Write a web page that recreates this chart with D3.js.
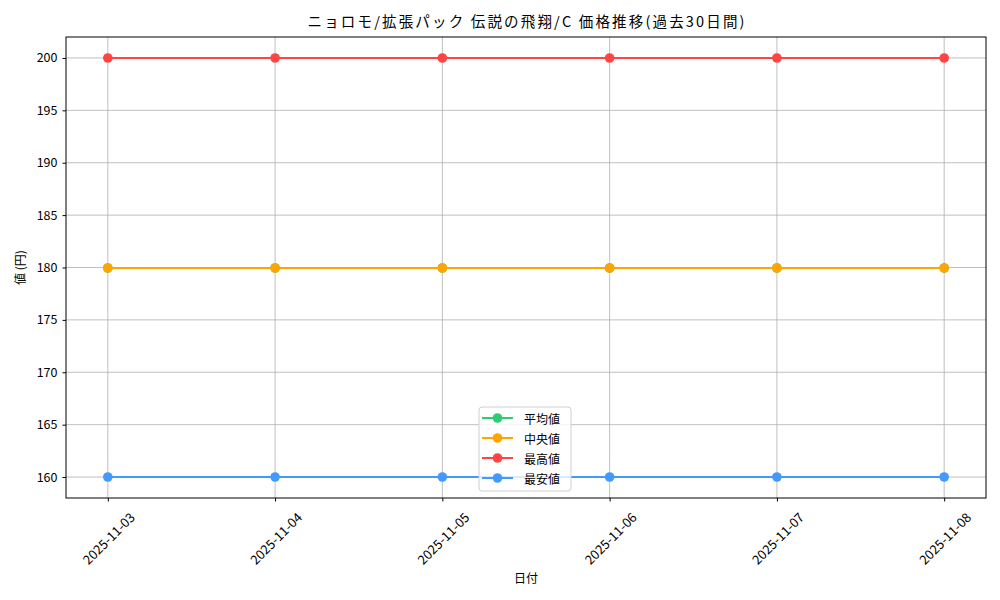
<!DOCTYPE html>
<html><head><meta charset="utf-8">
<script src="https://cdn.jsdelivr.net/npm/d3@7"></script>
<style>body{margin:0;background:#fff}svg{display:block}text{font-family:"Noto Sans CJK JP","Noto Sans",sans-serif}</style>
</head><body>
<svg id="c" width="1000" height="600"></svg>
<script>
const dates = ["2025-11-03","2025-11-04","2025-11-05","2025-11-06","2025-11-07","2025-11-08"];
const avgValues = [180,180,180,180,180,180];
const medianValues = [180,180,180,180,180,180];
const maxValues = [200,200,200,200,200,200];
const minValues = [160,160,160,160,160,160];
const yTicks = [160,165,170,175,180,185,190,195,200];
const seriesNames = ["平均値","中央値","最高値","最安値"];
const seriesColors = ["#2ecc71","#ffa500","#ff4444","#4499ff"];
const titleText = "ニョロモ/拡張パック 伝説の飛翔/C 価格推移(過去30日間)";

const svg = d3.select("#c");
const L=66,R=986,T=37,B=498;
const parse = d3.utcParse("%Y-%m-%d");
const dts = dates.map(parse);
const pad = 6*3600*1000;
const x = d3.scaleUtc().domain([new Date(+dts[0]-pad), new Date(+dts[dts.length-1]+pad)]).range([L,R]);
const y = d3.scaleLinear().domain([158,202]).range([B,T]);

// grid
const g = svg.append("g");
g.selectAll(".vg").data(dts).join("line").attr("x1",d=>x(d)).attr("x2",d=>x(d)).attr("y1",T).attr("y2",B).attr("stroke","#b0b0b0").attr("stroke-width",0.8);
g.selectAll(".hg").data(yTicks).join("line").attr("y1",d=>y(d)).attr("y2",d=>y(d)).attr("x1",L).attr("x2",R).attr("stroke","#b0b0b0").attr("stroke-width",0.8);

// axes
const xa = svg.append("g").attr("transform",`translate(0,${B})`).call(d3.axisBottom(x).tickValues(dts).tickSize(3.5).tickFormat(d3.utcFormat("%Y-%m-%d")));
xa.select(".domain").remove();
xa.selectAll("text").attr("font-size",13).attr("fill","#000").attr("text-anchor","middle").attr("dy",null).attr("y",null)
  .attr("dominant-baseline","central")
  .attr("transform","translate(0,40) rotate(-45)");
const ya = svg.append("g").attr("transform",`translate(${L},0)`).call(d3.axisLeft(y).tickValues(yTicks).tickSize(3.5).tickPadding(5));
ya.select(".domain").remove();
ya.selectAll("text").attr("font-size",12.5).attr("fill","#000");

// series
const all = [avgValues,medianValues,maxValues,minValues];
const line = d3.line().x((d,i)=>x(dts[i])).y(d=>Math.round(y(d)));
all.forEach((vals,k)=>{
  svg.append("path").datum(vals).attr("d",line).attr("fill","none").attr("stroke",seriesColors[k]).attr("stroke-width",2).attr("shape-rendering","crispEdges");
  svg.append("g").selectAll("circle").data(vals).join("circle").attr("cx",(d,i)=>x(dts[i])).attr("cy",d=>Math.round(y(d))).attr("r",4.8).attr("fill",seriesColors[k]);
});

// frame
svg.append("rect").attr("x",L).attr("y",T).attr("width",R-L).attr("height",B-T).attr("fill","none").attr("stroke","#000").attr("stroke-width",1);

// labels
svg.append("text").attr("x",(L+R)/2).attr("y",27).attr("text-anchor","middle").attr("font-size",14.5).attr("textLength",437).text(titleText);
svg.append("text").attr("x",(L+R)/2).attr("y",583).attr("text-anchor","middle").attr("font-size",12).text("日付");
svg.append("text").attr("transform",`translate(25,${(T+B)/2}) rotate(-90)`).attr("text-anchor","middle").attr("font-size",12).text("値 (円)");

// legend
const lg = svg.append("g").attr("transform","translate(479,407)");
lg.append("rect").attr("width",92).attr("height",84).attr("rx",3).attr("fill","#fff").attr("fill-opacity",0.8).attr("stroke","#d0d0d0");
seriesNames.forEach((n,k)=>{
  const yy = 11+k*20;
  lg.append("line").attr("x1",3).attr("x2",34).attr("y1",yy).attr("y2",yy).attr("stroke",seriesColors[k]).attr("stroke-width",2);
  lg.append("circle").attr("cx",18.5).attr("cy",yy).attr("r",4.8).attr("fill",seriesColors[k]);
  lg.append("text").attr("x",45).attr("y",yy).attr("dominant-baseline","central").attr("font-size",12).text(n);
});
</script>
</body></html>
